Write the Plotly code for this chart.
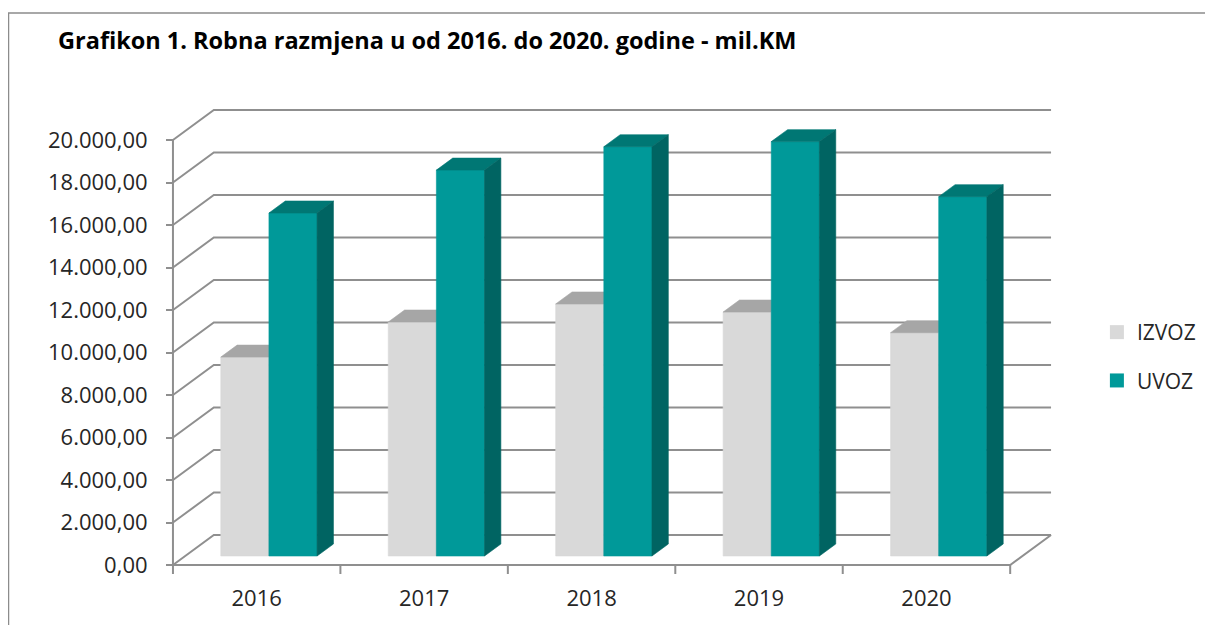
import plotly.graph_objects as go

# ---- data ----
years = ["2016", "2017", "2018", "2019", "2020"]
izvoz = [9360, 11010, 11860, 11480, 10510]
uvoz = [16140, 18160, 19260, 19500, 16910]
y_ticks = list(range(0, 20001, 2000))
series_names = ["IZVOZ", "UVOZ"]

# ---- styling / geometry constants (pseudo 3D) ----
PX_PER_CAT = 168.0
PX_PER_UNIT = 425.0 / 20000.0
DX = 41.0 / PX_PER_CAT          # depth offset in category units
DY = 30.0 / PX_PER_UNIT         # depth offset in value units
F0, F1 = 0.3, 0.7               # bar depth range (fraction of full depth)
BW = 0.2875                     # bar width (category units)
GRID = "#8F8F8F"
FACE = {"IZVOZ": ("#D9D9D9", "#A6A6A6", "#BFBFBF"),
        "UVOZ": ("#009999", "#007774", "#006462")}
FONT = "Open Sans, Calibri, sans-serif"

# page offset (body margin) and plot area in page pixels
OFF = 8
W, H = 1213 - OFF, 625 - OFF
L, R_PX, T, B_PX = 160 - OFF, 1070 - OFF, 95 - OFF, 575 - OFF
x0_px, y0_px = 173.0 - OFF, 565.0 - OFF
x_range = [(L - x0_px) / PX_PER_CAT, (R_PX - x0_px) / PX_PER_CAT]
y_range = [(y0_px - B_PX) / PX_PER_UNIT, (y0_px - T) / PX_PER_UNIT]


def px_x(p):
    return (p - OFF - L) / (R_PX - L)


def px_y(p):
    return (B_PX - (p - OFF)) / (B_PX - T)


n = len(years)
fig = go.Figure()

# back wall grid + left wall diagonals
gx, gy = [], []
for v in y_ticks:
    gx += [0, DX, n + DX, None]
    gy += [v, v + DY, v + DY, None]
# floor front edge and right edge, front value axis, category ticks
gx += [0, n, n + DX, None, 0, 0, None]
gy += [0, 0, DY, None, 0, y_ticks[-1], None]
tick_len = 9.0 / PX_PER_UNIT
for i in range(n + 1):
    gx += [i, i, None]
    gy += [0, -tick_len, None]
fig.add_trace(go.Scatter(x=gx, y=gy, mode="lines", line=dict(color=GRID, width=2),
                         hoverinfo="skip", showlegend=False))

# bars
for s, (name, vals) in enumerate(zip(series_names, [izvoz, uvoz])):
    front_c, top_c, side_c = FACE[name]
    fx, fy, tx, ty, sx, sy = [], [], [], [], [], []
    ddx = (F1 - F0) * DX
    ddy = (F1 - F0) * DY
    for i, v in enumerate(vals):
        xa = i + 0.5 - BW + s * BW + F0 * DX
        xb = xa + BW
        yb = F0 * DY
        yt = v + F0 * DY
        fx += [xa, xb, xb, xa, xa, None]
        fy += [yb, yb, yt, yt, yb, None]
        tx += [xa, xb, xb + ddx, xa + ddx, xa, None]
        ty += [yt, yt, yt + ddy, yt + ddy, yt, None]
        sx += [xb, xb + ddx, xb + ddx, xb, xb, None]
        sy += [yb, yb + ddy, yt + ddy, yt, yb, None]
    for xs, ys, c in [(fx, fy, front_c), (tx, ty, top_c), (sx, sy, side_c)]:
        fig.add_trace(go.Scatter(x=xs, y=ys, mode="lines", fill="toself",
                                 fillcolor=c, line=dict(color=c, width=0.6),
                                 hoverinfo="skip", showlegend=False))

# legend entries
for k, name in enumerate(series_names):
    fig.add_trace(go.Scatter(x=[None], y=[None], mode="markers", name=name,
                             legendgroup=name,
                             marker=dict(symbol="square", size=14, color=FACE[name][0])))


def fmt(v):
    s = f"{v:,.2f}"
    return s.replace(",", "X").replace(".", ",").replace("X", ".")


fig.update_layout(
    width=W, height=H,
    margin=dict(l=L, r=W - R_PX, t=T, b=H - B_PX, pad=0),
    paper_bgcolor="white", plot_bgcolor="white",
    font=dict(family=FONT, size=21, color="#262626"),
    title=dict(text="<b>Grafikon 1. Robna razmjena u od 2016. do 2020. godine - mil.KM</b>",
               xref="container", yref="container", x=(58 - OFF) / W, xanchor="left",
               y=1 - (41 - OFF) / H, yanchor="middle",
               font=dict(family=FONT, size=23.5, color="#000000")),
    xaxis=dict(range=x_range, showgrid=False, zeroline=False, showline=False,
               tickvals=[i + 0.5 for i in range(n)], ticktext=years,
               ticks="outside", ticklen=14, tickcolor="rgba(0,0,0,0)",
               anchor="free", position=(B_PX - y0_px) / (B_PX - T),
               tickfont=dict(size=22, color="#262626")),
    yaxis=dict(range=y_range, showgrid=False, zeroline=False, showline=False,
               tickvals=y_ticks, ticktext=[fmt(v) for v in y_ticks],
               ticks="outside", ticklen=7, tickwidth=2, tickcolor=GRID,
               ticklabelstandoff=14,
               anchor="free", position=(x0_px - L) / (R_PX - L),
               tickfont=dict(size=22, color="#262626")),
    legend=dict(x=px_x(1100), y=px_y(312),
                xanchor="left", yanchor="top", tracegroupgap=18,
                traceorder="grouped", bgcolor="rgba(0,0,0,0)",
                font=dict(size=21, color="#262626")),
    shapes=[dict(type="rect", xref="paper", yref="paper",
                 x0=px_x(8), x1=px_x(1240),
                 y0=px_y(650), y1=px_y(13),
                 line=dict(color="#8C8C8C", width=1.5), layer="below")],
)

fig.write_html("out.html")
